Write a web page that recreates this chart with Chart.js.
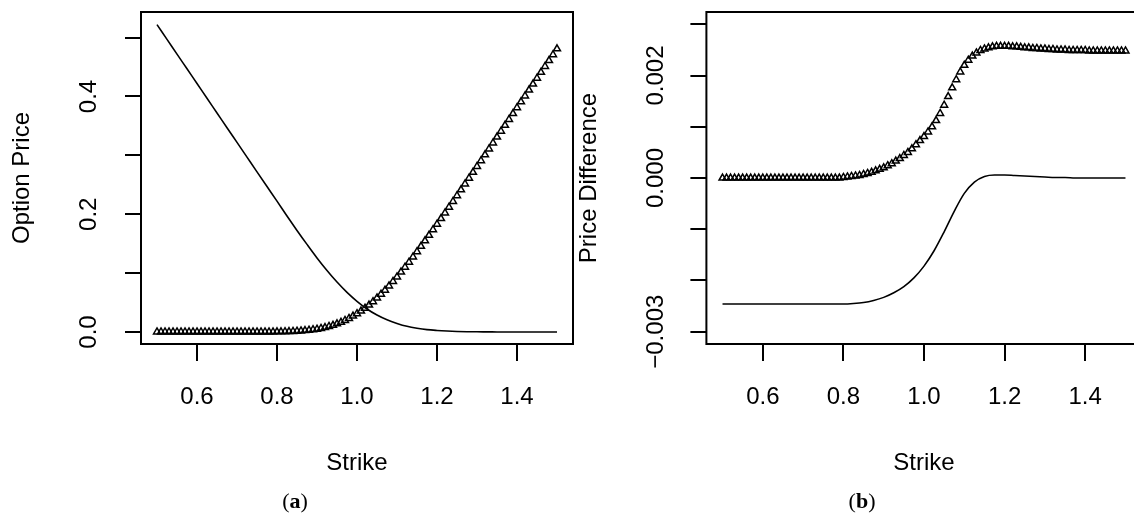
<!DOCTYPE html>
<html>
<head>
<meta charset="utf-8">
<script src="https://cdn.jsdelivr.net/npm/chart.js@4.4.1/dist/chart.umd.min.js"></script>
<style>
  html, body { margin: 0; padding: 0; background: #fff; overflow: hidden; width: 1134px; height: 515px; }
  canvas { position: absolute; top: 0; }
  #left { left: 0; }
  #right { left: 567px; }
  .cap { position: absolute; top: 490px; width: 60px; text-align: center;
         font-family: "Liberation Serif", "DejaVu Serif", serif; font-size: 22px; line-height: 22px; color: #000; }
</style>
</head>
<body>
<canvas id="left" width="600" height="515"></canvas>
<canvas id="right" width="600" height="515"></canvas>
<div class="cap" style="left:265px">(<b>a</b>)</div>
<div class="cap" style="left:832px">(<b>b</b>)</div>
<script>
// strike grid used by the triangle markers
const strikes = [
  0.50,0.51,0.52,0.53,0.54,0.55,0.56,0.57,0.58,0.59,
  0.60,0.61,0.62,0.63,0.64,0.65,0.66,0.67,0.68,0.69,
  0.70,0.71,0.72,0.73,0.74,0.75,0.76,0.77,0.78,0.79,
  0.80,0.81,0.82,0.83,0.84,0.85,0.86,0.87,0.88,0.89,
  0.90,0.91,0.92,0.93,0.94,0.95,0.96,0.97,0.98,0.99,
  1.00,1.01,1.02,1.03,1.04,1.05,1.06,1.07,1.08,1.09,
  1.10,1.11,1.12,1.13,1.14,1.15,1.16,1.17,1.18,1.19,
  1.20,1.21,1.22,1.23,1.24,1.25,1.26,1.27,1.28,1.29,
  1.30,1.31,1.32,1.33,1.34,1.35,1.36,1.37,1.38,1.39,
  1.40,1.41,1.42,1.43,1.44,1.45,1.46,1.47,1.48,1.49,
  1.50
];

// strike grid used by the solid lines
const lineStrikes = [
  0.500,0.525,0.550,0.575,0.600,0.625,0.650,0.675,0.700,0.725,
  0.750,0.775,0.800,0.825,0.850,0.875,0.900,0.925,0.950,0.975,
  1.000,1.025,1.050,1.075,1.100,1.125,1.150,1.175,1.200,1.225,
  1.250,1.275,1.300,1.325,1.350,1.375,1.400,1.425,1.450,1.475,
  1.500
];

// (a) option prices
const putPrice = [
  0,0,0,0,0,0,0,0,0,0,
  0,0,0,0,0,0,0,0,0,0,
  0,0,0,0,0,0,0,0,0.0001,0.0001,
  0.0002,0.0003,0.0005,0.0007,0.0010,0.0013,0.0018,0.0024,0.0031,0.0039,
  0.0048,0.0061,0.0076,0.0094,0.0114,0.0138,0.0165,0.0196,0.0231,0.0270,
  0.0311,0.0356,0.0405,0.0458,0.0515,0.0578,0.0643,0.0711,0.0783,0.0858,
  0.0936,0.1017,0.1100,0.1186,0.1274,0.1364,0.1455,0.1548,0.1642,0.1737,
  0.1830,0.1926,0.2023,0.2120,0.2218,0.2316,0.2415,0.2514,0.2613,0.2712,
  0.2811,0.2910,0.3010,0.3110,0.3210,0.3310,0.3410,0.3510,0.3610,0.3710,
  0.3810,0.3910,0.4010,0.4110,0.4210,0.4310,0.4410,0.4510,0.4610,0.4710,
  0.4810
];
const callPrice = [
  0.522,0.497,0.472,0.447,0.422,0.397,0.372,0.347,0.322,0.297,
  0.2720,0.2471,0.2223,0.1970,0.1725,0.1488,0.1258,0.1045,0.0848,0.0673,
  0.0521,0.0391,0.0288,0.0207,0.0146,0.0097,0.0064,0.0040,0.0026,0.0016,
  0.0009,0.0005,0.0003,0.0002,0.0001,0,0,0,0,0,
  0
];

// (b) price differences
const diffMarkers = [
  0,0,0,0,0,0,0,0,0,0,
  0,0,0,0,0,0,0,0,0,0,
  0,0,0,0,0,0,0,0,0,0,
  0.00001,0.00002,0.00003,0.00004,0.00005,0.00007,0.00009,0.00011,0.00014,0.00017,
  0.00020,0.00024,0.00028,0.00033,0.00038,0.00044,0.00050,0.00057,0.00065,0.00073,
  0.00081,0.00090,0.00100,0.00112,0.00126,0.00142,0.00159,0.00176,0.00192,0.00207,
  0.00220,0.00230,0.00238,0.00244,0.00249,0.00252,0.00254,0.00256,0.00257,0.00257,
  0.00257,0.00257,0.00256,0.00256,0.00255,0.00254,0.00254,0.00253,0.00253,0.00252,
  0.00252,0.00251,0.00251,0.00250,0.00250,0.00250,0.00249,0.00249,0.00249,0.00249,
  0.00249,0.00248,0.00248,0.00248,0.00248,0.00248,0.00248,0.00248,0.00248,0.00248,
  0.00248
];
const diffLine = [
  -0.00246,-0.00246,-0.00246,-0.00246,-0.00246,-0.00246,-0.00246,-0.00246,-0.00246,-0.00246,
  -0.00246,-0.00246,-0.00246,-0.00245,-0.00243,-0.00239,-0.00233,-0.00224,-0.00212,-0.00195,
  -0.00172,-0.00142,-0.00105,-0.00065,-0.00030,-0.00008,0.00003,0.00006,0.00006,0.00005,
  0.00004,0.00003,0.00002,0.00001,0.00001,0,0,0,0,0,
  0
];

// axis ticks and labels
const xTicks = [0.6, 0.8, 1.0, 1.2, 1.4];
const leftYTicks = [0, 0.1, 0.2, 0.3, 0.4, 0.5];
const leftYLabels = { 0: "0.0", 0.2: "0.2", 0.4: "0.4" };
const rightYTicks = [-0.003, -0.002, -0.001, 0, 0.001, 0.002, 0.003];
const rightYLabels = { "0.002": "0.002", "0": "0.000", "-0.003": "\u22120.003" };

Chart.defaults.font.family = "'Liberation Sans', Arial, sans-serif";
Chart.defaults.color = "#000";

const pts = (xs, ys) => xs.map((x, i) => ({ x: x, y: ys[i] }));

// box round the plot + rotated y labels, R style
const rAxes = {
  id: "rAxes",
  afterDraw(chart, args, opts) {
    const c = chart.ctx, a = chart.chartArea, y = chart.scales.y;
    c.save();
    c.strokeStyle = "#000";
    c.lineWidth = 2;
    c.strokeRect(a.left, a.top, a.right - a.left, a.bottom - a.top);
    c.font = "24px 'Liberation Sans', Arial, sans-serif";
    c.fillStyle = "#000";
    c.textAlign = "center";
    c.textBaseline = "middle";
    Object.keys(opts.labels).forEach(k => {
      const py = y.getPixelForValue(Number(k));
      c.save();
      c.translate(opts.labelX, py);
      c.rotate(-Math.PI / 2);
      c.fillText(opts.labels[k], 0, 0);
      c.restore();
    });
    c.restore();
  }
};

function makeChart(id, d, yMin, yMax, yTicks, yLabels, yTitle, yWidth, padRight) {
  return new Chart(document.getElementById(id), {
    type: "scatter",
    data: {
      datasets: [
        {
          data: d.line,
          showLine: true,
          pointRadius: 0,
          borderColor: "#000",
          borderWidth: 1.6,
          cubicInterpolationMode: "monotone"
        },
        {
          data: d.markers,
          showLine: false,
          pointStyle: "triangle",
          pointRadius: 4,
          pointBorderWidth: 1.5,
          pointBorderColor: "#000",
          pointBackgroundColor: "rgba(0,0,0,0)"
        }
      ]
    },
    options: {
      responsive: false,
      animation: false,
      devicePixelRatio: 1,
      layout: { padding: { left: 0, top: 12, right: padRight, bottom: 0 } },
      plugins: {
        legend: { display: false },
        tooltip: { enabled: false },
        rAxes: { labels: yLabels, labelX: 89.3 }
      },
      scales: {
        x: {
          type: "linear",
          min: 0.46,
          max: 1.54,
          afterBuildTicks: s => { s.ticks = xTicks.map(v => ({ value: v })); },
          afterFit: s => { s.height = 171; },
          ticks: {
            callback: v => Number(v).toFixed(1),
            font: { size: 24 },
            padding: 22,
            autoSkip: false,
            maxRotation: 0
          },
          grid: { drawOnChartArea: false, drawTicks: true, tickLength: 17, lineWidth: 2, color: "#000" },
          border: { display: false },
          title: { display: true, text: "Strike", font: { size: 24 }, padding: { top: 0, bottom: 37 } }
        },
        y: {
          type: "linear",
          min: yMin,
          max: yMax,
          afterBuildTicks: s => { s.ticks = yTicks.map(v => ({ value: v })); },
          afterFit: s => { s.width = yWidth; },
          ticks: { display: false },
          grid: { drawOnChartArea: false, drawTicks: true, tickLength: 16, lineWidth: 2, color: "#000" },
          border: { display: false },
          title: { display: true, text: yTitle, font: { size: 24 }, padding: { top: 8, bottom: 0 } }
        }
      }
    },
    plugins: [rAxes]
  });
}

makeChart("left",
  { line: pts(lineStrikes, callPrice), markers: pts(strikes, putPrice) },
  -0.0204, 0.5435, leftYTicks, leftYLabels, "Option Price", 141, 27);

makeChart("right",
  { line: pts(lineStrikes, diffLine), markers: pts(strikes, diffMarkers) },
  -0.00324, 0.00324, rightYTicks, rightYLabels, "Price Difference", 139.4, 25.4);
</script>
</body>
</html>
